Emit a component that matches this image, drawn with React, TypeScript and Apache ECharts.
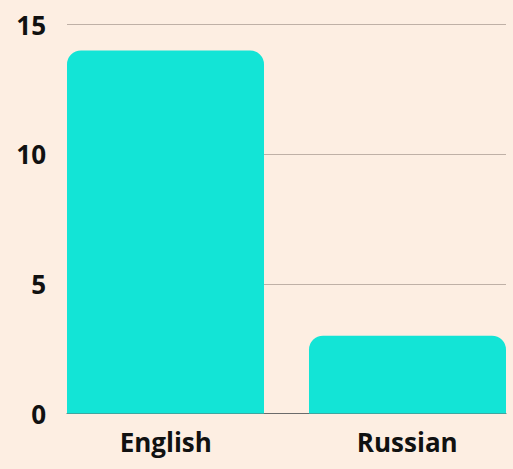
import React, { useEffect, useRef } from "react";
import * as echarts from "echarts";

const categories = ["English", "Russian"];
const englishValues = [14, "-"];
const russianValues = ["-", 3];
const yTicks = [0, 5, 10, 15];

export default function App() {
  const ref = useRef<HTMLDivElement>(null);
  useEffect(() => {
    const chart = echarts.init(ref.current!, null, { renderer: "svg" });
    const font = "'Open Sans', 'Noto Sans', sans-serif";
    chart.setOption({
      animation: false,
      backgroundColor: "#fdeee2",
      grid: { left: 67, right: 7, top: 24.5, bottom: 55.5 },
      xAxis: {
        type: "category",
        data: categories,
        axisTick: { show: false },
        axisLine: { show: true, lineStyle: { color: "#6b6b6b", width: 1 } },
        axisLabel: {
          margin: 15,
          formatter: (v: string, i: number) => (i === 0 ? `{a|${v}}` : `{b|${v}}`),
          rich: {
            a: { fontSize: 26, fontWeight: "bold", color: "#111", fontFamily: font, padding: [0, 22, 0, 0] },
            b: { fontSize: 26, fontWeight: "bold", color: "#111", fontFamily: font, padding: [0, 0, 0, 22] },
          },
        },
      },
      yAxis: {
        type: "value",
        min: yTicks[0],
        max: yTicks[yTicks.length - 1],
        interval: 5,
        axisLine: { show: false },
        axisTick: { show: false },
        splitLine: { lineStyle: { color: "#bfb0a6", width: 1 } },
        axisLabel: {
          margin: 21,
          fontSize: 26,
          fontWeight: "bold",
          color: "#111",
          fontFamily: font,
        },
      },
      series: [
        {
          type: "bar",
          data: englishValues,
          barWidth: "89.75%",
          barGap: "-88.58%",
          itemStyle: { color: "#13e4d6", borderRadius: [14, 14, 0, 0] },
        },
        {
          type: "bar",
          data: russianValues,
          barWidth: "89.75%",
          itemStyle: { color: "#13e4d6", borderRadius: [14, 14, 0, 0] },
        },
      ],
    });
    return () => chart.dispose();
  }, []);
  return <div ref={ref} style={{ width: 513, height: 469, position: "absolute", left: 0, top: 0 }} />;
}
